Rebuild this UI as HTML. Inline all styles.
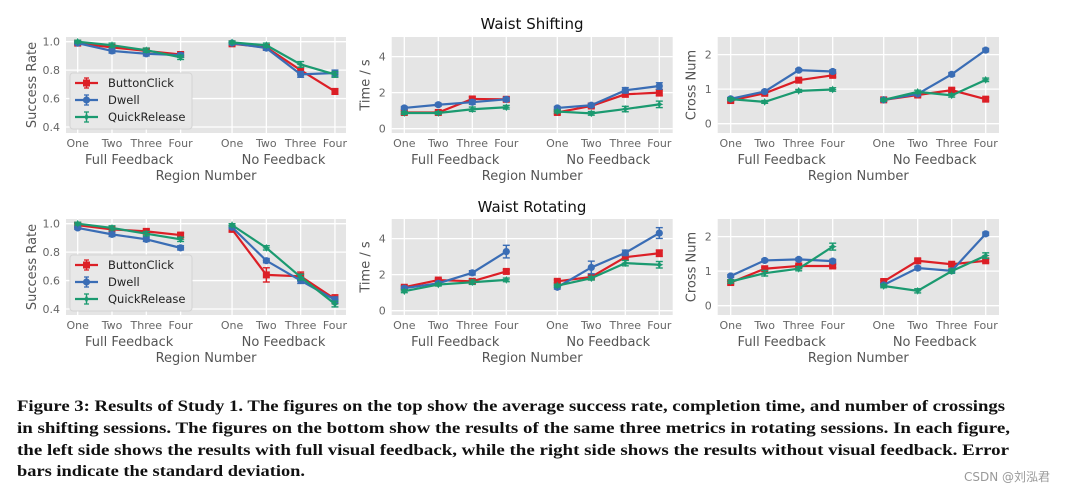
<!DOCTYPE html>
<html><head><meta charset="utf-8"><style>
html,body{margin:0;padding:0;background:#fff;width:1067px;height:494px;overflow:hidden}
svg{display:block}
text{font-family:"DejaVu Sans","Liberation Sans",sans-serif}
.cap{font-family:"Liberation Serif",serif;font-weight:bold;font-size:16px;fill:#111}
</style></head><body>
<svg id="fig" width="1067" height="494" viewBox="0 0 1067 494" xmlns="http://www.w3.org/2000/svg">
<text x="532" y="29" text-anchor="middle" font-size="15" fill="#111">Waist Shifting</text>
<text x="532" y="212" text-anchor="middle" font-size="15" fill="#111">Waist Rotating</text>
<g>
<text class="cap" x="17" y="411" textLength="988" lengthAdjust="spacingAndGlyphs">Figure 3: Results of Study 1. The figures on the top show the average success rate, completion time, and number of crossings</text>
<text class="cap" x="17" y="433" textLength="993" lengthAdjust="spacingAndGlyphs">in shifting sessions. The figures on the bottom show the results of the same three metrics in rotating sessions. In each figure,</text>
<text class="cap" x="17" y="455" textLength="992" lengthAdjust="spacingAndGlyphs">the left side shows the results with full visual feedback, while the right side shows the results without visual feedback. Error</text>
<text class="cap" x="17" y="476" textLength="288" lengthAdjust="spacingAndGlyphs">bars indicate the standard deviation.</text>
</g>
<text x="1050" y="481" text-anchor="end" font-size="12" fill="#999">CSDN @刘泓君</text>
</svg>
<script>
// Categories
const regions = ["One","Two","Three","Four","One","Two","Three","Four"];
const regionPos = [0,1,2,3,4.5,5.5,6.5,7.5];
const groups = ["Full Feedback","No Feedback"];
const seriesNames = ["ButtonClick","Dwell","QuickRelease"];
// Success rate, shifting
const srShiftBC = [0.99,0.96,0.935,0.91,0.985,0.96,0.80,0.65];
const srShiftDW = [0.99,0.935,0.915,0.905,0.99,0.955,0.77,0.78];
const srShiftQR = [1.0,0.975,0.94,0.89,0.995,0.975,0.84,0.77];
// Time, shifting
const tShiftBC = [0.9,0.9,1.65,1.63,0.9,1.26,1.91,2.0];
const tShiftDW = [1.15,1.33,1.47,1.63,1.15,1.3,2.13,2.37];
const tShiftQR = [0.87,0.87,1.08,1.19,0.95,0.85,1.09,1.35];
// Cross num, shifting
const cShiftBC = [0.67,0.88,1.26,1.40,0.69,0.83,0.97,0.71];
const cShiftDW = [0.72,0.93,1.55,1.51,0.69,0.86,1.43,2.13];
const cShiftQR = [0.71,0.63,0.95,0.99,0.69,0.92,0.82,1.27];
// Success rate, rotating
const srRotBC = [0.99,0.96,0.946,0.92,0.96,0.64,0.63,0.47];
const srRotDW = [0.97,0.925,0.89,0.83,0.975,0.74,0.60,0.465];
const srRotQR = [1.0,0.97,0.93,0.89,0.99,0.83,0.625,0.435];
// Time, rotating
const tRotBC = [1.3,1.7,1.63,2.18,1.63,1.87,2.97,3.19];
const tRotDW = [1.25,1.52,2.1,3.28,1.3,2.4,3.21,4.31];
const tRotQR = [1.08,1.45,1.58,1.71,1.39,1.8,2.64,2.55];
// Cross num, rotating
const cRotBC = [0.67,1.07,1.15,1.15,0.70,1.30,1.20,1.30];
const cRotDW = [0.86,1.31,1.34,1.29,0.60,1.09,1.01,2.08];
const cRotQR = [0.70,0.94,1.07,1.71,0.57,0.43,1.0,1.45];
// Error bars (std)
const errSmall = [0.01,0.015,0.015,0.015,0.01,0.015,0.02,0.02];
const errSrRotBC = [0.015,0.015,0.015,0.015,0.015,0.05,0.03,0.03];
const errT = [0.08,0.08,0.12,0.1,0.08,0.1,0.15,0.18];
const errTRotDW = [0.1,0.1,0.12,0.35,0.1,0.35,0.15,0.3];
const errC = [0.04,0.04,0.04,0.05,0.04,0.05,0.05,0.05];
const errCRotQR = [0.05,0.08,0.06,0.1,0.05,0.06,0.06,0.08];
// Tick labels
const srTicks = [0.4,0.6,0.8,1.0];
const srTickLabels = ["0.4","0.6","0.8","1.0"];
const tTicks = [0,2,4];
const tTickLabels = ["0","2","4"];
const cTicks = [0,1,2];
const cTickLabels = ["0","1","2"];

const colors = ["#dc1f26","#3a6db5","#1b9a70"];
const NS = "http://www.w3.org/2000/svg";
const fig = document.getElementById("fig");
function mk(tag, attrs, parent){const e=document.createElementNS(NS,tag);for(const k in attrs)e.setAttribute(k,attrs[k]);(parent||fig).appendChild(e);return e;}

const panels = [
 {name:"success-shifting",x0:66,x1:346,y0:37,y1:133,xs:77.7,step:34.3,dom:[0.358,1.033],ticks:srTicks,tl:srTickLabels,yl:"Success Rate",data:[srShiftBC,srShiftDW,srShiftQR],err:[errSmall,errSmall,errSmall],legend:true},
 {name:"time-shifting",x0:391.7,x1:672.7,y0:37,y1:133,xs:404.3,step:34,dom:[-0.24,5.09],ticks:tTicks,tl:tTickLabels,yl:"Time / s",data:[tShiftBC,tShiftDW,tShiftQR],err:[errT,errT,errT]},
 {name:"cross-shifting",x0:717.7,x1:999,y0:37,y1:133,xs:730.7,step:34,dom:[-0.27,2.51],ticks:cTicks,tl:cTickLabels,yl:"Cross Num",data:[cShiftBC,cShiftDW,cShiftQR],err:[errC,errC,errC]},
 {name:"success-rotating",x0:66,x1:346,y0:219,y1:315,xs:77.7,step:34.3,dom:[0.358,1.033],ticks:srTicks,tl:srTickLabels,yl:"Success Rate",data:[srRotBC,srRotDW,srRotQR],err:[errSrRotBC,errSmall,errSmall],legend:true},
 {name:"time-rotating",x0:391.7,x1:672.7,y0:219,y1:315,xs:404.3,step:34,dom:[-0.24,5.09],ticks:tTicks,tl:tTickLabels,yl:"Time / s",data:[tRotBC,tRotDW,tRotQR],err:[errT,errTRotDW,errT]},
 {name:"cross-rotating",x0:717.7,x1:999,y0:219,y1:315,xs:730.7,step:34,dom:[-0.27,2.51],ticks:cTicks,tl:cTickLabels,yl:"Cross Num",data:[cRotBC,cRotDW,cRotQR],err:[errC,errC,errCRotQR]}
];

function marker(g,i,cx,cy,c){
  let m;
  if(i===0){m=mk("rect",{x:cx-3.5,y:cy-3.5,width:7,height:7,fill:c},g);}
  else if(i===1){m=mk("circle",{cx:cx,cy:cy,r:3.6,fill:c},g);}
  else{m=mk("path",{d:`M${cx},${cy-4}L${cx+1.4},${cy-1.2}L${cx+4},${cy}L${cx+1.4},${cy+1.2}L${cx},${cy+4}L${cx-1.4},${cy+1.2}L${cx-4},${cy}L${cx-1.4},${cy-1.2}Z`,fill:c},g);}
  return m;
}

panels.forEach(p=>{
  const g=mk("g",{});
  
  
  const X=pos=>p.xs+pos*p.step;
  const Y=v=>p.y1-(v-p.dom[0])/(p.dom[1]-p.dom[0])*(p.y1-p.y0);
  const bg=mk("rect",{x:p.x0,y:p.y0,width:p.x1-p.x0,height:p.y1-p.y0,fill:"#e5e5e5"},g);
  
  
  p.ticks.forEach((t,k)=>{
    mk("line",{x1:p.x0,x2:p.x1,y1:Y(t),y2:Y(t),stroke:"#fff","stroke-width":1.3},g);
    const tx=mk("text",{x:p.x0-6,y:Y(t)+4,"text-anchor":"end","font-size":11,fill:"#666"},g);
    tx.textContent=p.tl[k];
    
    
  });
  regionPos.forEach((r,k)=>{
    mk("line",{x1:X(r),x2:X(r),y1:p.y0,y2:p.y1,stroke:"#fff","stroke-width":1.3},g);
    const tx=mk("text",{x:X(r),y:p.y1+14,"text-anchor":"middle","font-size":11,fill:"#666"},g);
    tx.textContent=regions[k];
    
    
  });
  groups.forEach((gn,k)=>{
    const tx=mk("text",{x:X(regionPos[k*4]+1.5),y:p.y1+31,"text-anchor":"middle","font-size":13,fill:"#555"},g);
    tx.textContent=gn;
    
    
  });
  const xt=mk("text",{x:(p.x0+p.x1)/2,y:p.y1+47,"text-anchor":"middle","font-size":13,fill:"#555"},g);
  xt.textContent="Region Number";
  
  
  const yc=(p.y0+p.y1)/2, yx=p.x0-(p.yl==="Success Rate"?30:22);
  const yt=mk("text",{x:yx,y:yc,"text-anchor":"middle","font-size":13,fill:"#555",transform:`rotate(-90 ${yx} ${yc})`},g);
  yt.textContent=p.yl;
  
  
  p.data.forEach((vals,i)=>{
    const c=colors[i];
    const sg=mk("g",{},g);
    
    
    [0,4].forEach(st=>{
      const pts=[0,1,2,3].map(j=>X(regionPos[st+j])+","+Y(vals[st+j])).join(" ");
      const pl=mk("polyline",{points:pts,fill:"none",stroke:c,"stroke-width":2.2},sg);
      
      
    });
    vals.forEach((v,j)=>{
      const cx=X(regionPos[j]), e=p.err[i][j];
      const ya=Y(v+e), yb=Y(v-e);
      mk("line",{x1:cx,x2:cx,y1:ya,y2:yb,stroke:c,"stroke-width":1.5},sg);
      mk("line",{x1:cx-3.5,x2:cx+3.5,y1:ya,y2:ya,stroke:c,"stroke-width":1.4},sg);
      mk("line",{x1:cx-3.5,x2:cx+3.5,y1:yb,y2:yb,stroke:c,"stroke-width":1.4},sg);
      const m=marker(sg,i,cx,Y(v),c);
      
      
    });
  });
  if(p.legend){
    const lg=mk("g",{},g);
    
    
    const ly=p.y0+36;
    mk("rect",{x:70,y:ly,width:122,height:56,rx:3,fill:"#e8e8e8",stroke:"#d4d4d4","stroke-width":1},lg);
    seriesNames.forEach((s,i)=>{
      const ry=ly+10+i*17;
      const c=colors[i];
      const e=mk("g",{},lg);
      
      
      mk("line",{x1:75,x2:98,y1:ry,y2:ry,stroke:c,"stroke-width":2.2},e);
      mk("line",{x1:86.5,x2:86.5,y1:ry-5,y2:ry+5,stroke:c,"stroke-width":1.4},e);
      mk("line",{x1:84,x2:89,y1:ry-5,y2:ry-5,stroke:c,"stroke-width":1.3},e);
      mk("line",{x1:84,x2:89,y1:ry+5,y2:ry+5,stroke:c,"stroke-width":1.3},e);
      marker(e,i,86.5,ry,c);
      const t=mk("text",{x:108,y:ry+4,"font-size":11.5,fill:"#222"},e);
      t.textContent=s;
    });
  }
});
</script>
</body></html>
